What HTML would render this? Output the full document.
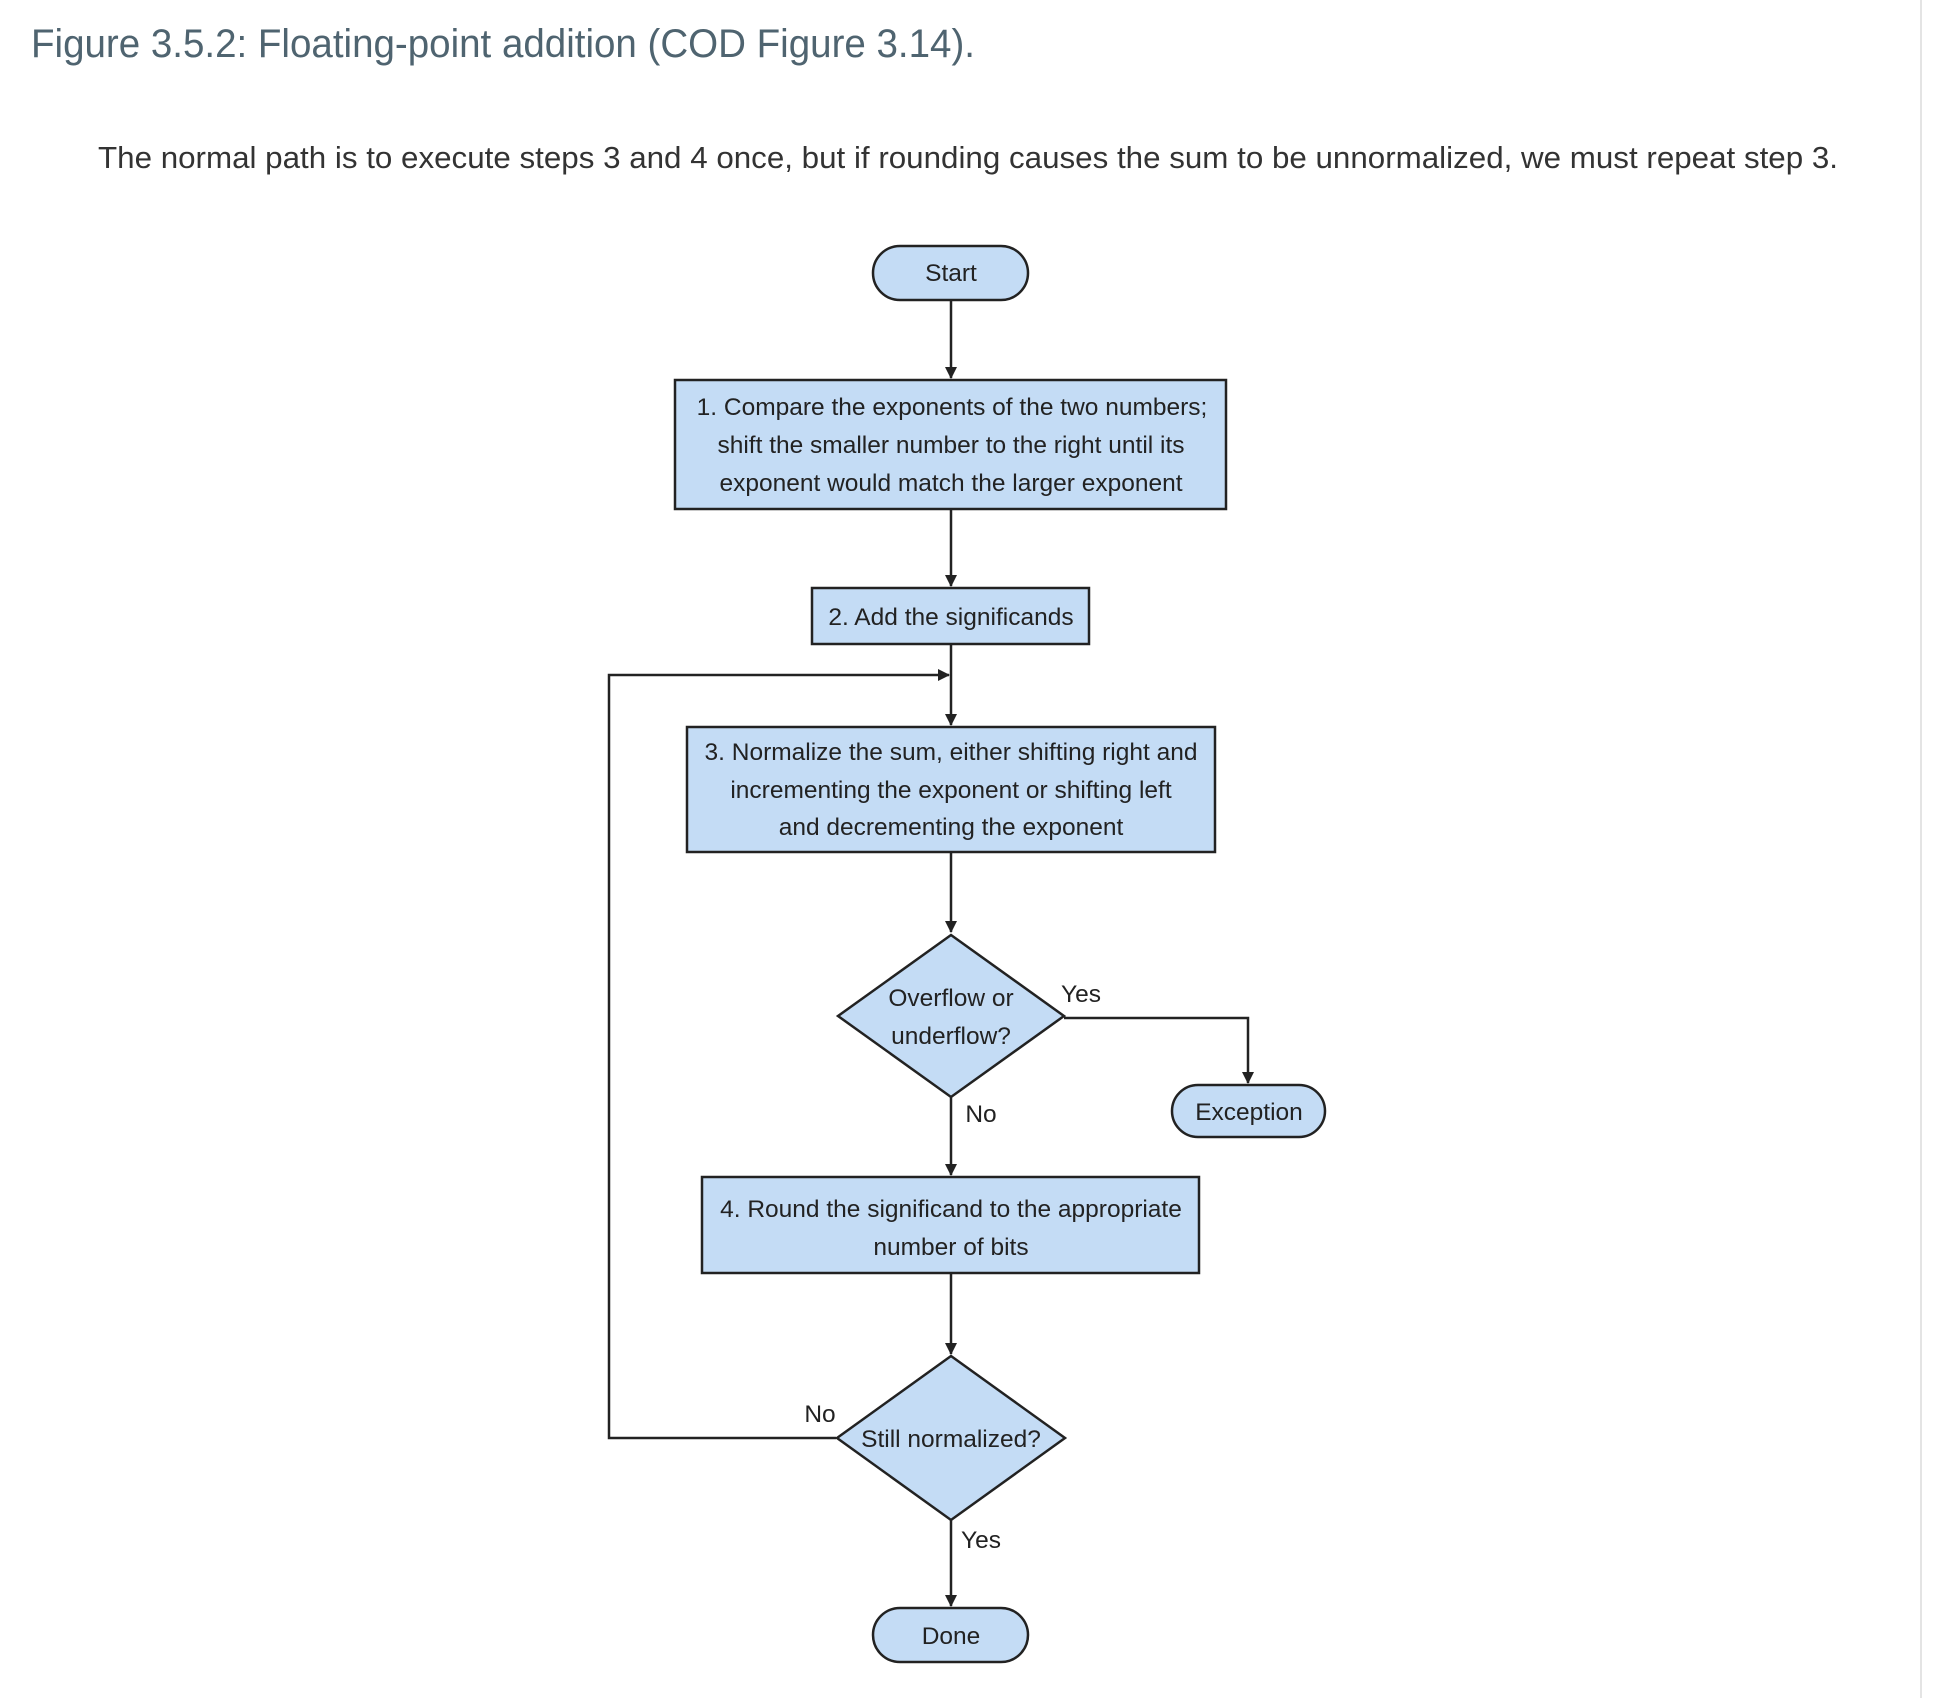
<!DOCTYPE html>
<html><head><meta charset="utf-8"><style>
html,body{margin:0;padding:0;background:#fff;}
svg{display:block;}
</style></head><body>
<svg width="1942" height="1698" viewBox="0 0 1942 1698" xmlns="http://www.w3.org/2000/svg" font-family="Liberation Sans, sans-serif">
<defs>
<marker id="a" markerWidth="12" markerHeight="12" refX="11" refY="6" orient="auto" markerUnits="userSpaceOnUse">
<path d="M0,0 L12,6 L0,12 z" fill="#222"/>
</marker>
</defs>
<line x1="1921" y1="0" x2="1921" y2="1698" stroke="#e4e4e4" stroke-width="2"/>
<text x="31" y="57" font-size="40" fill="#4f6470" textLength="944" lengthAdjust="spacingAndGlyphs">Figure 3.5.2: Floating-point addition (COD Figure 3.14).</text>
<text x="98" y="168" font-size="31" fill="#333" textLength="1740" lengthAdjust="spacingAndGlyphs">The normal path is to execute steps 3 and 4 once, but if rounding causes the sum to be unnormalized, we must repeat step 3.</text>

<g stroke="#222" stroke-width="2.5" fill="none">
<line x1="951" y1="300" x2="951" y2="378" marker-end="url(#a)"/>
<line x1="951" y1="509" x2="951" y2="586" marker-end="url(#a)"/>
<line x1="951" y1="644" x2="951" y2="725" marker-end="url(#a)"/>
<polyline points="836,1438 609,1438 609,675 949,675" marker-end="url(#a)"/>
<line x1="951" y1="852" x2="951" y2="932" marker-end="url(#a)"/>
<polyline points="1064,1018 1248,1018 1248,1083" marker-end="url(#a)"/>
<line x1="951" y1="1097" x2="951" y2="1175" marker-end="url(#a)"/>
<line x1="951" y1="1273" x2="951" y2="1354" marker-end="url(#a)"/>
<line x1="951" y1="1520" x2="951" y2="1606" marker-end="url(#a)"/>
</g>

<g fill="#c4dcf5" stroke="#222" stroke-width="2.5">
<rect x="873" y="246" width="155" height="54" rx="27"/>
<rect x="675" y="380" width="551" height="129"/>
<rect x="812" y="588" width="277" height="56"/>
<rect x="687" y="727" width="528" height="125"/>
<polygon points="951,935 1064,1016 951,1097 838,1016"/>
<rect x="1172" y="1085" width="153" height="52" rx="26"/>
<rect x="702" y="1177" width="497" height="96"/>
<polygon points="951,1356 1065,1438 951,1520 837,1438"/>
<rect x="873" y="1608" width="155" height="54" rx="27"/>
</g>

<g font-size="24.5" fill="#222" text-anchor="middle">
<text x="951" y="281">Start</text>
<text x="952" y="415">1. Compare the exponents of the two numbers;</text>
<text x="951" y="453">shift the smaller number to the right until its</text>
<text x="951" y="491">exponent would match the larger exponent</text>
<text x="951" y="625">2. Add the significands</text>
<text x="951" y="760">3. Normalize the sum, either shifting right and</text>
<text x="951" y="798">incrementing the exponent or shifting left</text>
<text x="951" y="835">and decrementing the exponent</text>
<text x="951" y="1006">Overflow or</text>
<text x="951" y="1044">underflow?</text>
<text x="1081" y="1002">Yes</text>
<text x="981" y="1122">No</text>
<text x="1249" y="1120">Exception</text>
<text x="951" y="1217">4. Round the significand to the appropriate</text>
<text x="951" y="1255">number of bits</text>
<text x="820" y="1422">No</text>
<text x="951" y="1447">Still normalized?</text>
<text x="981" y="1548">Yes</text>
<text x="951" y="1644">Done</text>
</g>
</svg>
</body></html>
